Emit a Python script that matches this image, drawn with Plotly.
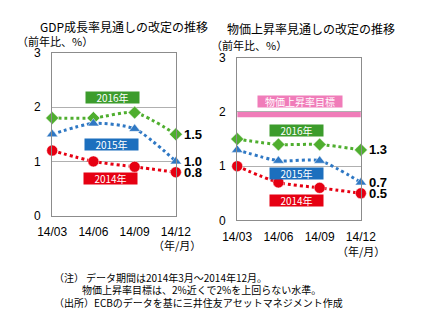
import plotly.graph_objects as go

periods = ["14/03", "14/06", "14/09", "14/12"]
gdp_2016 = [1.8, 1.8, 1.9, 1.5]
gdp_2015 = [1.5, 1.7, 1.6, 1.0]
gdp_2014 = [1.2, 1.0, 0.9, 0.8]
cpi_2016 = [1.5, 1.4, 1.4, 1.3]
cpi_2015 = [1.3, 1.1, 1.1, 0.7]
cpi_2014 = [1.0, 0.7, 0.6, 0.5]
target_band = [1.9, 2.0]
y_ticks = [0, 1, 2, 3]
series_names = ["2016年", "2015年", "2014年"]

W, H = 427, 325
FONT = "Noto Sans CJK JP"
GREEN, BLUE, RED, PINK = "#4fae2f", "#2f78c4", "#e60012", "#f07cb9"
BOX = {"2016年": "#3c9c2c", "2015年": "#1c6fbe", "2014年": "#e60012"}

def px_x(p):
    return p / W

def px_y(p):
    return 1 - p / H

fig = go.Figure()

styles = [
    (GREEN, "diamond", 10),
    (BLUE, "triangle-up", 10),
    (RED, "circle", 11),
]
xi = list(range(len(periods)))

for axis_id, data in (("", [gdp_2016, gdp_2015, gdp_2014]), ("2", [cpi_2016, cpi_2015, cpi_2014])):
    for (col, sym, sz), vals, nm in zip(styles, data, series_names):
        fig.add_trace(go.Scatter(
            x=xi, y=vals, mode="lines+markers", name=nm,
            line=dict(color=col, width=3, dash="dot", shape="spline", smoothing=0.7),
            marker=dict(color=col, symbol=sym, size=sz,
                        line=dict(color="rgba(255,255,255,0.5)", width=1)),
            xaxis="x" + axis_id, yaxis="y" + axis_id, cliponaxis=False,
            showlegend=False,
        ))
        fig.add_annotation(
            x=xi[-1], y=vals[-1], xref="x" + axis_id, yref="y" + axis_id,
            text=f"<b>{vals[-1]:.1f}</b>", showarrow=False, xanchor="left",
            xshift=6, font=dict(family="Liberation Sans", size=13, color="black"))

axis_common = dict(
    showline=True, linecolor="#8c8c8c", linewidth=1, mirror=True,
    zeroline=False, ticks="", fixedrange=True,
    tickfont=dict(family="Liberation Sans", size=12, color="black"),
)

fig.update_layout(
    width=W, height=H, margin=dict(l=0, r=0, t=0, b=0),
    plot_bgcolor="white", paper_bgcolor="white",
    xaxis=dict(domain=[px_x(40), px_x(173)], range=[0, 3], tickvals=xi, ticktext=periods,
               showgrid=False, anchor="y", ticklabelstandoff=5, **axis_common),
    yaxis=dict(domain=[px_y(218), px_y(48)], range=[0, 3], tickvals=y_ticks,
               showgrid=True, gridcolor="#b0b0b0", gridwidth=1, anchor="x",
               ticklabelstandoff=8, **axis_common),
    xaxis2=dict(domain=[px_x(239), px_x(372)], range=[0, 3], tickvals=xi, ticktext=periods,
                showgrid=False, anchor="y2", ticklabelstandoff=5, **axis_common),
    yaxis2=dict(domain=[px_y(223), px_y(53)], range=[0, 3], tickvals=y_ticks,
                showgrid=True, gridcolor="#b0b0b0", gridwidth=1, anchor="x2",
                ticklabelstandoff=8, **axis_common),
)

# inflation target band
fig.add_shape(type="rect", xref="x2", yref="y2", x0=0, x1=3,
              y0=target_band[0], y1=target_band[1],
              fillcolor=PINK, line=dict(width=0), layer="above")

def label_box(text, x, y, ax, color, w=53):
    fig.add_annotation(x=x, y=y, xref="x" + ax, yref="y" + ax, text=text,
                       showarrow=False, bgcolor=color, borderpad=0,
                       width=w, height=11, align="center", valign="middle",
                       font=dict(family=FONT, size=10, color="white"))

label_box("2016年", 1.47, 2.17, "", BOX["2016年"])
label_box("2015年", 1.43, 1.32, "", BOX["2015年"])
label_box("2014年", 1.42, 0.69, "", BOX["2014年"])
label_box("物価上昇率目標", 1.53, 2.2, "2", PINK, w=84)
label_box("2016年", 1.43, 1.66, "2", BOX["2016年"])
label_box("2015年", 1.43, 0.86, "2", BOX["2015年"])
label_box("2014年", 1.43, 0.37, "2", BOX["2014年"])

def text(t, x, y, size=11, anchor="left"):
    fig.add_annotation(x=px_x(x), y=px_y(y), xref="paper", yref="paper", text=t,
                       showarrow=False, xanchor=anchor, yanchor="middle",
                       font=dict(family=FONT, size=size, color="black"))

text("GDP成長率見通しの改定の推移", 25, 20, size=12)
text("（前年比、%）", 0, 36)
text("物価上昇率見通しの改定の推移", 226, 22, size=12)
text("（前年比、%）", 209, 40)
text("（年/月）", 146, 249)
text("（年/月）", 344, 255)
text("（注）&#8201;データ期間は2014年3月～2014年12月。", 40, 283, size=10)
text("物価上昇率目標は、2%近くで2%を上回らない水準。", 70, 295, size=10)
text("（出所）ECBのデータを基に三井住友アセットマネジメント作成", 40, 309, size=10)

fig.write_html("out.html")
